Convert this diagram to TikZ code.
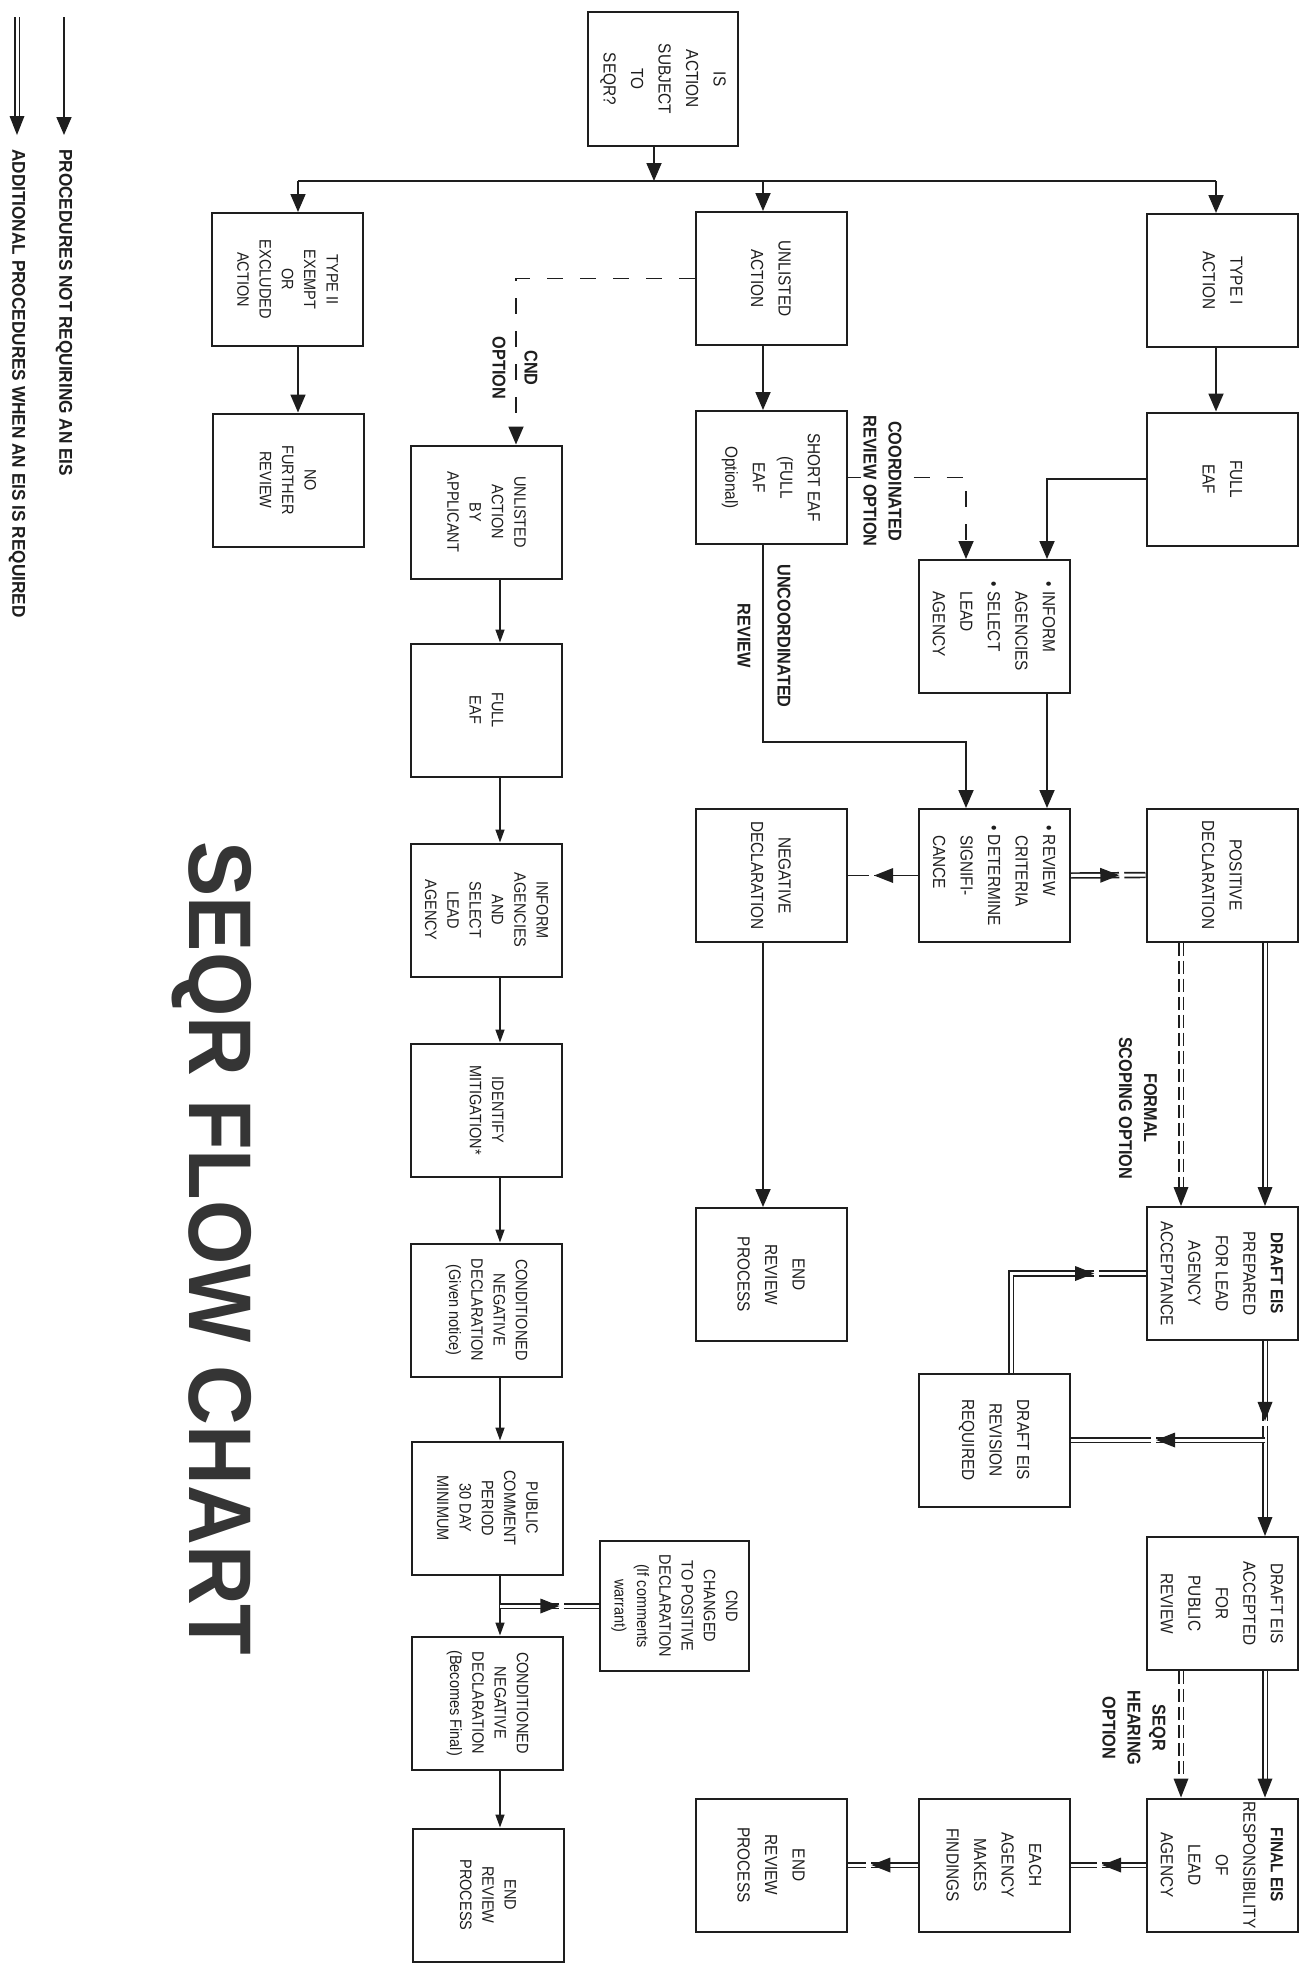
\documentclass[tikz,border=0pt]{standalone}
\usepackage{fontspec}
\setmainfont{Liberation Sans}
\newfontfamily\bxfont[FakeStretch=0.88]{Liberation Sans}
\newfontfamily\lgfont[FakeStretch=0.93]{Liberation Sans}
\newfontfamily\ttlfont[FakeStretch=0.93]{Liberation Sans}
\usetikzlibrary{arrows.meta,decorations.markings}
\pgfdeclarelayer{bg}
\pgfsetlayers{bg,main}
\definecolor{ink}{HTML}{1E1E1E}
\definecolor{ttl}{HTML}{353535}
\tikzset{
  boxL/.style={draw=ink, text=ink, line width=2pt, rotate=-90, minimum width=133pt, minimum height=151pt, inner sep=0pt, align=center, font=\bxfont\fontsize{17.5pt}{27.5pt}\selectfont},
  boxS/.style={boxL, font=\bxfont\fontsize{16.5pt}{22.3pt}\selectfont},
  lab/.style={rotate=-90, inner sep=0pt, align=center, text=ink, font=\bxfont\bfseries\fontsize{18.5pt}{25pt}\selectfont},
  leg/.style={rotate=-90, inner sep=0pt, text=ink, font=\lgfont\bfseries\fontsize{18.5pt}{22pt}\selectfont},
  ln/.style={draw=ink, line width=1.8pt},
  arrL/.style={ln, -{Triangle[length=18pt,width=15pt]}},
  arrS/.style={draw=ink, line width=1.5pt, -{Triangle[length=13pt,width=9pt]}},
  dashL/.style={dash pattern=on 16pt off 17pt},
  dbl/.style={draw=ink, line width=1.7pt, double=white, double distance=3pt},
  dbld/.style={dbl, dash pattern=on 13pt off 5pt},
  midtri/.style={postaction={decorate, decoration={markings, mark=at position #1 with {\fill[white, shorten >=0pt, shorten <=0pt] (0pt,-4.8pt) rectangle (5pt,4.8pt); \fill[ink, shorten >=0pt, shorten <=0pt] (0pt,0pt) -- (-19pt,7.5pt) -- (-19pt,-7.5pt) -- cycle;}}}},
  endtri/.style={shorten >=12pt, postaction={decorate, decoration={markings, mark=at position 1 with {\fill[ink, shorten >=0pt, shorten <=0pt] (0pt,0pt) -- (-19pt,7.5pt) -- (-19pt,-7.5pt) -- cycle;}}}}
}
\begin{document}
\begin{tikzpicture}[x=1pt,y=-1pt]
\useasboundingbox (0,0) rectangle (1307,1965);
% ---------- boxes ----------
\node[boxL, minimum width=134pt, minimum height=150pt] (is) at (663,79) {IS\\ACTION\\SUBJECT\\TO\\SEQR?};
\node[boxS] (typeII) at (287.5,279.5) {TYPE II\\EXEMPT\\OR\\EXCLUDED\\ACTION};
\node[boxS] (nofurther) at (288,480) {NO\\FURTHER\\REVIEW};
\node[boxL] (unlisted) at (771,278.5) {UNLISTED\\ACTION};
\node[boxL] (shorteaf) at (771,477.5) {SHORT EAF\\(FULL\\EAF\\Optional)};
\node[boxL] (negdecl) at (771,875.5) {NEGATIVE\\DECLARATION};
\node[boxL] (end1) at (771,1274.5) {END\\REVIEW\\PROCESS};
\node[boxL] (end2) at (771,1865) {END\\REVIEW\\PROCESS};
\node[boxL] (typeI) at (1222.5,280.5) {TYPE I\\ACTION};
\node[boxL] (fullA) at (1222.5,479) {FULL\\EAF};
\node[boxL] (posdecl) at (1222,875) {POSITIVE\\DECLARATION};
\node[boxL] (draftprep) at (1222,1273.5) {\textbf{DRAFT EIS}\\PREPARED\\FOR LEAD\\AGENCY\\ACCEPTANCE};
\node[boxL] (draftacc) at (1222,1603.5) {DRAFT EIS\\ACCEPTED\\FOR\\PUBLIC\\REVIEW};
\node[boxL] (finaleis) at (1222,1865) {\textbf{FINAL EIS}\\RESPONSIBILITY\\OF\\LEAD\\AGENCY};
\node[boxL, align=left] (inform1) at (994,626.5) {• INFORM\\\phantom{• }AGENCIES\\• SELECT\\\phantom{• }LEAD\\\phantom{• }AGENCY};
\node[boxL, align=left] (review) at (994,875.5) {• REVIEW\\\phantom{• }CRITERIA\\• DETERMINE\\\phantom{• }SIGNIFI-\\\phantom{• }CANCE};
\node[boxL] (revision) at (994,1440) {DRAFT EIS\\REVISION\\REQUIRED};
\node[boxL] (each) at (994,1865) {EACH\\AGENCY\\MAKES\\FINDINGS};
\node[boxS, minimum width=130pt, minimum height=149pt] (cndchg) at (674.5,1606) {CND\\CHANGED\\TO POSITIVE\\DECLARATION\\(If comments\\warrant)};
\node[boxS] (applicant) at (486.5,512) {UNLISTED\\ACTION\\BY\\APPLICANT};
\node[boxS] (fullE) at (486.5,710) {FULL\\EAF};
\node[boxS] (informE) at (486.5,910) {INFORM\\AGENCIES\\AND\\SELECT\\LEAD\\AGENCY};
\node[boxS] (mitig) at (486.5,1110) {IDENTIFY\\MITIGATION*};
\node[boxS] (cnd1) at (486.5,1310) {CONDITIONED\\NEGATIVE\\DECLARATION\\(Given notice)};
\node[boxS] (public) at (487.5,1508) {PUBLIC\\COMMENT\\PERIOD\\30 DAY\\MINIMUM};
\node[boxS] (cnd2) at (487.5,1703) {CONDITIONED\\NEGATIVE\\DECLARATION\\(Becomes Final)};
\node[boxS] (end3) at (488,1895) {END\\REVIEW\\PROCESS};
% ---------- labels ----------
\node[lab, font=\bxfont\bfseries\fontsize{18.5pt}{32pt}\selectfont] (cndlab) at (515,368) {CND\\OPTION};
\node[lab, fill=white, inner sep=2pt] (coordlab) at (882.5,481) {COORDINATED\\REVIEW OPTION};
\node[lab, font=\bxfont\bfseries\fontsize{18.5pt}{40pt}\selectfont] (uncoordlab) at (764,636) {UNCOORDINATED\\REVIEW};
\node[lab] (scopelab) at (1138,1108) {FORMAL\\SCOPING OPTION};
\node[lab] (hearlab) at (1134,1728) {SEQR\\HEARING\\OPTION};
% ---------- legend and title ----------
\node[leg, anchor=west] (leg1) at (64,149) {PROCEDURES NOT REQUIRING AN EIS};
\node[leg, anchor=west] (leg2) at (17,149) {ADDITIONAL PROCEDURES WHEN AN EIS IS REQUIRED};
\node[rotate=-90, anchor=base, inner sep=0pt, text=ttl, font=\ttlfont\bfseries\fontsize{89pt}{89pt}\selectfont] (title) at (189,1248.5) {SEQR FLOW CHART};
% ---------- helper coordinates ----------
\coordinate (j) at (654,181);
\coordinate (jF) at (298,181);
\coordinate (jC) at (763,181);
\coordinate (jA) at (1216,181);
\coordinate (xB1) at (1047,0);
\coordinate (xB2) at (966,0);
\coordinate (u1) at (763,742);
\coordinate (xA1) at (1265,0);
\coordinate (xA2) at (1181,0);
\coordinate (xRev) at (1011,0);
\coordinate (xE) at (500,0);
\coordinate (xCND) at (516,0);
\coordinate (lg1a) at (64,17);
\coordinate (lg1b) at (64,135);
\coordinate (lg2a) at (17,17);
\coordinate (lg2b) at (17,135);
% ---------- connectors ----------
\begin{pgfonlayer}{bg}
\draw[arrL] (lg1a) -- (lg1b);
\draw[dbl, endtri] (lg2a) -- (lg2b);
\draw[arrL] (is.east -| j) -- (j);
\draw[ln] (jF) -- (jA);
\draw[arrL] (jF) -- (typeII.west -| jF);
\draw[arrL] (jC) -- (unlisted.west -| jC);
\draw[arrL] (jA) -- (typeI.west -| jA);
\draw[arrL] (typeII.east -| jF) -- (nofurther.west -| jF);
\draw[arrL] (unlisted.east -| jC) -- (shorteaf.west -| jC);
\draw[arrL] (typeI.east -| jA) -- (fullA.west -| jA);
\draw[arrL] (fullA.south) -| (inform1.west -| xB1);
\draw[arrL, dashL] (shorteaf.north) -| (inform1.west -| xB2);
\draw[arrL] (inform1.east -| xB1) -- (review.west -| xB1);
\draw[arrL] (shorteaf.east -| jC) -- (u1) -| (review.west -| xB2);
\draw[ln, midtri=0.62] (review.south) -- (negdecl.north);
\draw[dbl, midtri=0.65] (review.north) -- (posdecl.south);
\draw[arrL] (negdecl.east -| jC) -- (end1.west -| jC);
\draw[dbl, endtri] (posdecl.east -| xA1) -- (draftprep.west -| xA1);
\draw[dbld, endtri] (posdecl.east -| xA2) -- (draftprep.west -| xA2);
\draw[dbl, midtri=0.41, endtri] (draftprep.east -| xA1) -- (draftacc.west -| xA1);
\draw[dbl, midtri=0.56] (revision.north -| xA1) -- (revision.north);
\draw[dbl, midtri=0.78] (revision.west -| xRev) |- (draftprep.south);
\draw[dbl, endtri] (draftacc.east -| xA1) -- (finaleis.west -| xA1);
\draw[dbld, endtri] (draftacc.east -| xA2) -- (finaleis.west -| xA2);
\draw[dbl, midtri=0.58] (finaleis.south) -- (each.north);
\draw[dbl, midtri=0.66] (each.south) -- (end2.north);
\draw[arrL, dashL] (unlisted.south) -| (applicant.west -| xCND);
\draw[arrS] (applicant.east -| xE) -- (fullE.west -| xE);
\draw[arrS] (fullE.east -| xE) -- (informE.west -| xE);
\draw[arrS] (informE.east -| xE) -- (mitig.west -| xE);
\draw[arrS] (mitig.east -| xE) -- (cnd1.west -| xE);
\draw[arrS] (cnd1.east -| xE) -- (public.west -| xE);
\draw[arrS] (public.east -| xE) -- (cnd2.west -| xE);
\draw[arrS] (cnd2.east -| xE) -- (end3.west -| xE);
\draw[dbl, midtri=0.6] (cndchg.south -| xE) -- (cndchg.south);
\end{pgfonlayer}
\end{tikzpicture}
\end{document}
